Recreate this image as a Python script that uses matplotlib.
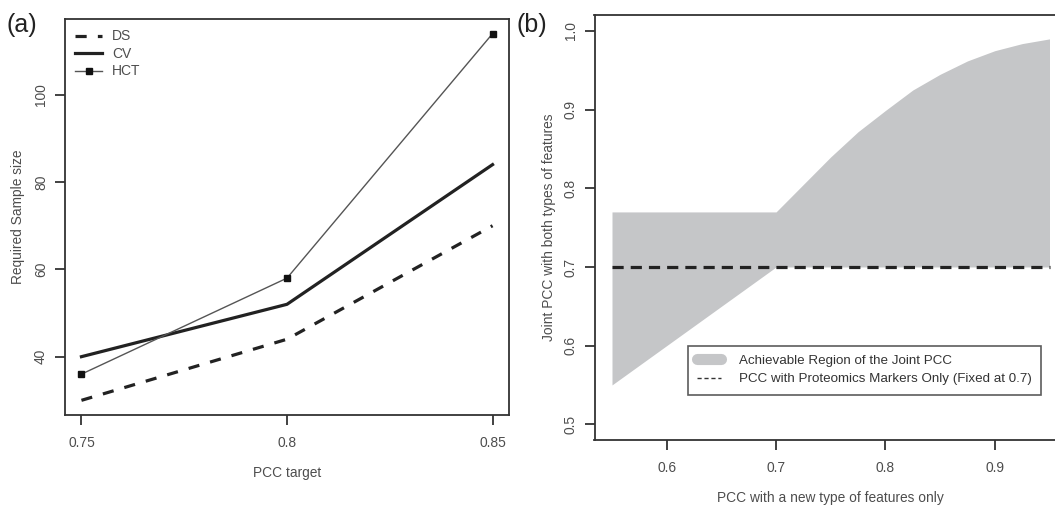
import matplotlib.pyplot as plt
from matplotlib.lines import Line2D

plt.rcParams['font.family'] = ['Liberation Sans', 'DejaVu Sans']

# panel (a) data
pcc_target = [0.75, 0.80, 0.85]
ds = [30, 44, 70]
cv = [40, 52, 84]
hct = [36, 58, 114]

# panel (b) data
pcc_new = [0.55, 0.575, 0.60, 0.625, 0.65, 0.675, 0.70, 0.725, 0.75, 0.775,
           0.80, 0.825, 0.85, 0.875, 0.90, 0.925, 0.95]
region_low = [0.55, 0.575, 0.60, 0.625, 0.65, 0.675, 0.70, 0.70, 0.70, 0.70,
              0.70, 0.70, 0.70, 0.70, 0.70, 0.70, 0.70]
region_high = [0.77, 0.77, 0.77, 0.77, 0.77, 0.77, 0.77, 0.805, 0.840, 0.872,
               0.899, 0.925, 0.945, 0.962, 0.975, 0.984, 0.990]
proteomics_only = 0.7

W, H = 1055, 505
spine_c = '#333333'
text_c = '#4d4d4d'
dark = '#222222'
fs = 9.9

fig = plt.figure(figsize=(W / 100, H / 100), dpi=100)


def box(l, t, r, b):
    return [l / W, 1 - b / H, (r - l) / W, (b - t) / H]


def style(ax):
    for s in ax.spines.values():
        s.set_color(spine_c)
        s.set_linewidth(1.3)
    ax.tick_params(axis='both', length=7, width=1.3, color=spine_c,
                   labelcolor=text_c, labelsize=fs)
    ax.tick_params(axis='x', pad=8.0)
    ax.tick_params(axis='y', pad=5.2)
    for lab in ax.get_yticklabels():
        lab.set_rotation(90)
        lab.set_va('center')


# ---- (a)
ax1 = fig.add_axes(box(65, 19, 509, 415))
ax1.plot(pcc_target, ds, color=dark, lw=2.3, dashes=(3.5, 3.5), label='DS')
ax1.plot(pcc_target, cv, color=dark, lw=2.3, label='CV')
ax1.plot(pcc_target, hct, color='#555555', lw=1.0, marker='s', markersize=4.5,
         markerfacecolor='#111111', markeredgecolor='#111111', label='HCT')
ax1.set_xlim(0.746, 0.854)
ax1.set_ylim(26.64, 117.36)
ax1.set_xticks(pcc_target)
ax1.set_xticklabels(['0.75', '0.8', '0.85'])
ax1.set_yticks([40, 60, 80, 100])
style(ax1)
ax1.set_xlabel('PCC target', fontsize=fs, color=text_c)
ax1.set_ylabel('Required Sample size', fontsize=fs, color=text_c)
ax1.xaxis.set_label_coords(0.5, -0.147)
ax1.xaxis.label.set_va('center')
ax1.yaxis.set_label_coords(-0.105, 0.5)
ax1.yaxis.label.set_va('center')
leg1 = ax1.legend(loc='upper left', bbox_to_anchor=(0.0, 1.0), frameon=False,
                  fontsize=10, handlelength=1.9, handletextpad=0.75,
                  labelspacing=0.25, borderaxespad=0.4, borderpad=0.35)
for t in leg1.get_texts():
    t.set_color(text_c)

# ---- (b)
ax2 = fig.add_axes(box(594.5, 15.3, 1067, 440))
ax2.fill_between(pcc_new, region_low, region_high, color='#c5c6c8', lw=0)
ax2.plot([pcc_new[0], pcc_new[-1]], [proteomics_only, proteomics_only],
         color=dark, lw=2.3, dashes=(3.5, 2.2))
ax2.set_xlim(0.534, 0.966)
ax2.set_ylim(0.48, 1.02)
ax2.set_xticks([0.6, 0.7, 0.8, 0.9])
ax2.set_xticklabels(['0.6', '0.7', '0.8', '0.9'])
ax2.set_yticks([0.5, 0.6, 0.7, 0.8, 0.9, 1.0])
ax2.set_yticklabels(['0.5', '0.6', '0.7', '0.8', '0.9', '1.0'])
style(ax2)
ax2.set_xlabel('PCC with a new type of features only', fontsize=fs, color=text_c)
ax2.set_ylabel('Joint PCC with both types of features', fontsize=fs, color=text_c)
ax2.xaxis.set_label_coords(0.5, -0.1366)
ax2.xaxis.label.set_va('center')
ax2.yaxis.set_label_coords(-0.0963, 0.5)
ax2.yaxis.label.set_va('center')

handles = [Line2D([], [], color='#c5c6c8', lw=8, solid_capstyle='round'),
           Line2D([], [], color='#333333', lw=1.0, dashes=(3, 2))]
labels = ['Achievable Region of the Joint PCC',
          'PCC with Proteomics Markers Only (Fixed at 0.7)']
leg2 = ax2.legend(handles, labels, loc='upper left',
                  bbox_to_anchor=(688.3 / W, 1 - 345.7 / H),
                  bbox_transform=fig.transFigure, fontsize=9.6,
                  handlelength=1.8, handletextpad=1.3, labelspacing=0.45,
                  borderpad=0.68, borderaxespad=0, fancybox=False)
leg2.get_frame().set_edgecolor(spine_c)
leg2.get_frame().set_linewidth(1.2)
for t in leg2.get_texts():
    t.set_color('#333333')

fig.text(6.5 / W, 1 - 25 / H, '(a)', fontsize=18, color='#222222',
         ha='left', va='center')
fig.text(516 / W, 1 - 25 / H, '(b)', fontsize=18, color='#222222',
         ha='left', va='center')

fig.savefig('out.png', dpi=100)
